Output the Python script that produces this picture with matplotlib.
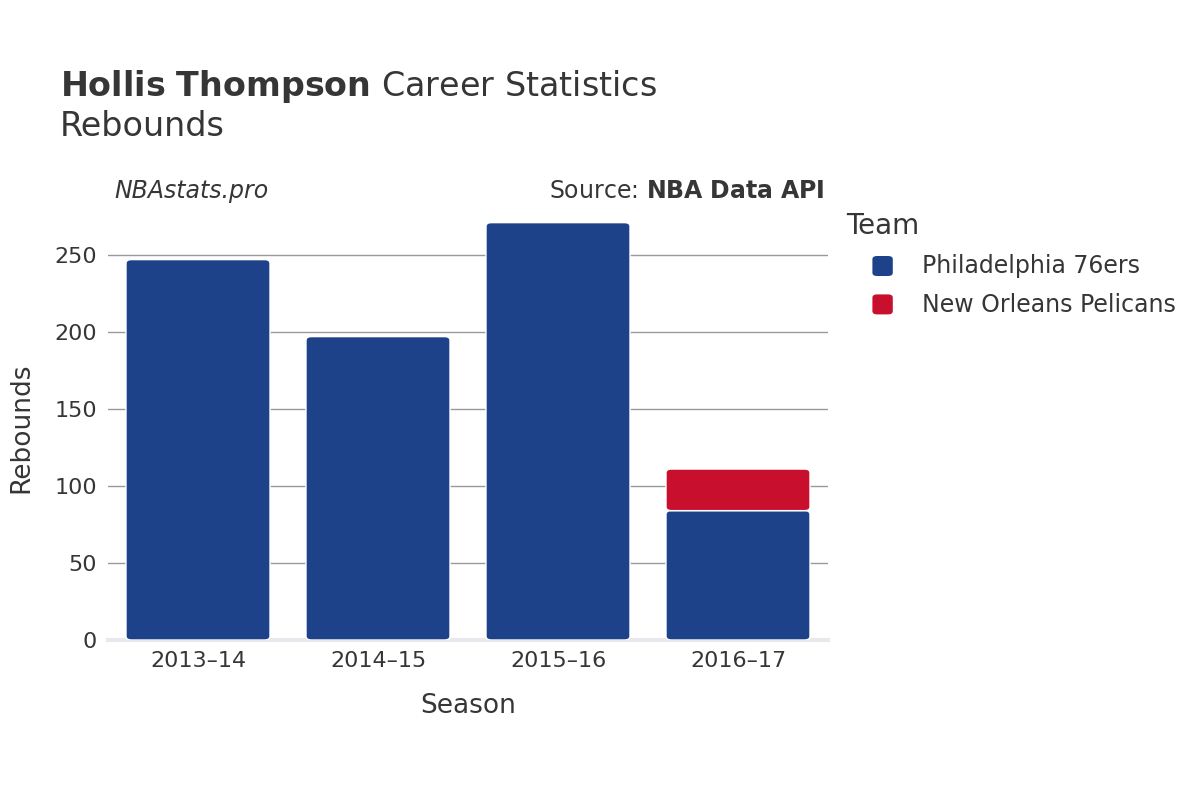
import matplotlib.pyplot as plt
import numpy as np
from matplotlib.patches import FancyBboxPatch

seasons = ["2013–14", "2014–15", "2015–16", "2016–17"]
phi = [247, 197, 271, 84]
nop = [0, 0, 0, 27]

blue = "#1d428a"
red = "#c8102e"
txt = "#363636"

fig = plt.figure(figsize=(12, 8), dpi=100)
ax = fig.add_axes([0.09, 0.2, 0.6, 0.5294])
x = np.arange(len(seasons))
w = 0.8

def rbar(xc, y0, h, color):
    p = FancyBboxPatch((xc - w / 2, y0), w, h, boxstyle="round,pad=0,rounding_size=0.03",
                       mutation_aspect=80, facecolor=color, edgecolor="white", linewidth=1, zorder=3)
    ax.add_patch(p)

for i in x:
    rbar(i, 0, phi[i], blue)
    if nop[i]:
        rbar(i, phi[i], nop[i], red)

ax.set_xlim(-0.5, 3.5)
ax.set_ylim(0, 275)
ax.set_yticks([0, 50, 100, 150, 200, 250])
ax.set_xticks(x)
ax.set_xticklabels(seasons)
ax.grid(axis="y", color="#999999", linewidth=1, zorder=0)
for s in ["top", "right", "left"]:
    ax.spines[s].set_visible(False)
ax.spines["bottom"].set_color("#e8e8ee")
ax.spines["bottom"].set_linewidth(3)
ax.tick_params(length=0, labelsize=16, labelcolor=txt, pad=8)
ax.set_xlabel("Season", fontsize=19, color=txt, labelpad=16)
ax.set_ylabel("Rebounds", fontsize=19, color=txt, labelpad=14)

fig.text(0.05, 0.88, r"$\bf{Hollis\ Thompson}$ Career Statistics", fontsize=24, color=txt)
fig.text(0.05, 0.83, "Rebounds", fontsize=24, color=txt)
fig.text(0.095, 0.752, "NBAstats.pro", fontsize=17, style="italic", color=txt)
fig.text(0.687, 0.752, r"Source: $\bf{NBA\ Data\ API}$", fontsize=17, color=txt, ha="right")

fig.text(0.705, 0.707, "Team", fontsize=20, color=txt)
for k, (lab, c) in enumerate([("Philadelphia 76ers", blue), ("New Orleans Pelicans", red)]):
    yy = 0.667 - k * 0.048
    fig.patches.append(FancyBboxPatch((0.727, yy - 0.012), 0.017, 0.025, boxstyle="round,pad=0,rounding_size=0.004",
                                      transform=fig.transFigure, facecolor=c, edgecolor="none"))
    fig.text(0.768, yy, lab, fontsize=17, color=txt, va="center")

fig.savefig("out.png")
